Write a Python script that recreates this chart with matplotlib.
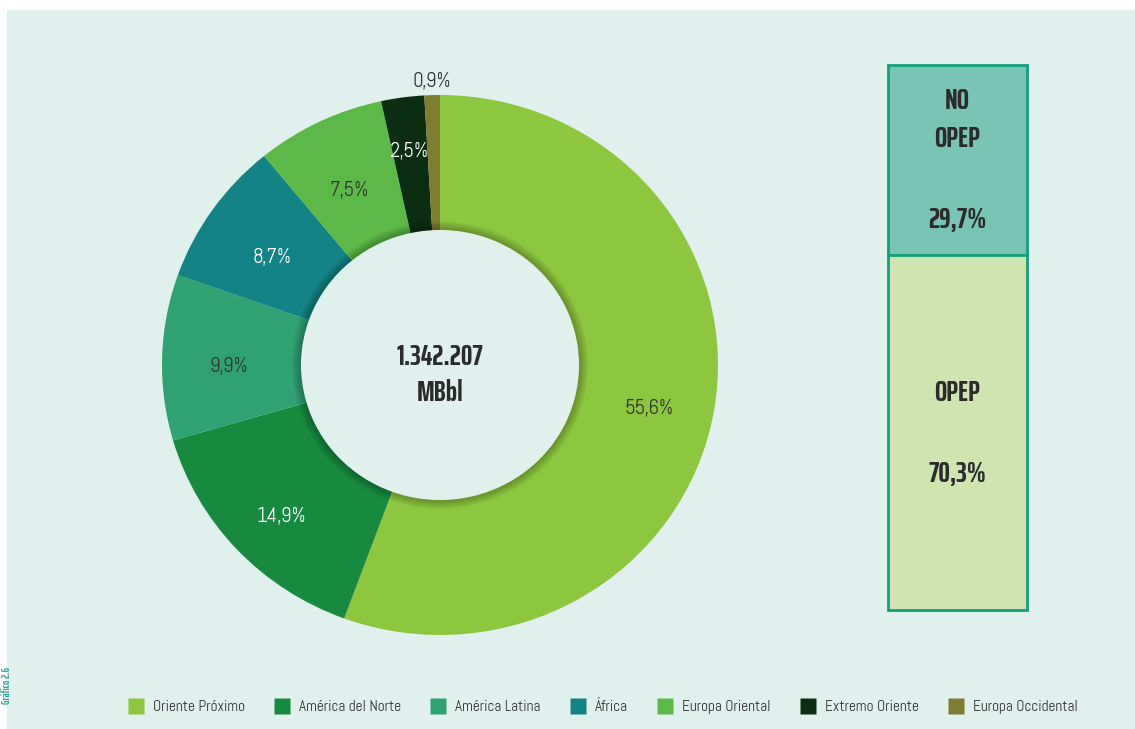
import math
import matplotlib.pyplot as plt
from matplotlib.patches import Rectangle, Wedge
from matplotlib.lines import Line2D

plt.rcParams['font.family'] = ['Abel', 'DejaVu Sans']
BOLD = ['Saira ExtraCondensed', 'DejaVu Sans']

regiones = ["Oriente Próximo", "América del Norte", "América Latina", "África",
            "Europa Oriental", "Extremo Oriente", "Europa Occidental"]
valores = [55.6, 14.9, 9.9, 8.7, 7.5, 2.5, 0.9]
colores = ["#8dc63f", "#178a3f", "#2fa173", "#138385", "#5cb947", "#0b2e13", "#7f7d31"]
color_texto = ["#333333", "white", "#333333", "white", "#333333", "white", "#333333"]
total = "1.342.207\nMBbl"

opep = ["NO\nOPEP", "OPEP"]
opep_valores = [29.7, 70.3]
opep_colores = ["#79c4b4", "#cfe4b1"]

# distancia radial de cada etiqueta (fracción del radio)
dist_etiqueta = [0.765, 0.78, 0.76, 0.74, 0.75, 0.825, 1.05]

W, H = 1135, 729
fig = plt.figure(figsize=(W / 100, H / 100), dpi=100, facecolor="white")
ax = fig.add_axes([0, 0, 1, 1])
ax.set_xlim(0, W)
ax.set_ylim(0, H)
ax.axis("off")

# fondo
ax.add_patch(Rectangle((7, 0), W - 7, H - 10, facecolor="#e0f0ec", edgecolor="none", zorder=0))
ax.text(6, 44, "Gráfico 2.6", rotation=90, color="#2aa59a", fontsize=8,
        ha="center", va="center", family=BOLD, fontweight="bold")

# donut (ligeramente más ancho que alto, como en el original)
cx, cy = 440, H - 365
rx, ry = 278, 270
m = 1.1
pax = fig.add_axes([(cx - rx * m) / W, (cy - ry * m) / H, 2 * rx * m / W, 2 * ry * m / H])
pax.patch.set_visible(False)
wedges, _ = pax.pie(valores, colors=colores, startangle=90, counterclock=False,
                    radius=1, frame=True, wedgeprops=dict(width=0.5, edgecolor="none"))
pax.set_xlim(-m, m)
pax.set_ylim(-m, m)
pax.set_aspect("auto")
pax.axis("off")

# sombra interior
for i in range(8):
    pax.add_patch(Wedge((0, 0), 0.5 + 0.033 - i * 0.004, 0, 360, width=0.0045,
                        facecolor="black", alpha=0.03 * (i + 1), edgecolor="none", zorder=3))

ang = 90
for v, col, d in zip(valores, color_texto, dist_etiqueta):
    mid = ang - v * 3.6 / 2
    ang -= v * 3.6
    dy = -0.028 if d < 1 else 0
    pax.text(d * math.cos(math.radians(mid)), d * math.sin(math.radians(mid)) + dy,
             f"{v:.1f}%".replace(".", ","), color=col, fontsize=15,
             ha="center", va="center", zorder=5)

ax.text(cx, H - 375, total, ha="center", va="center", fontsize=21, fontweight="bold",
        family=BOLD, color="#2b2b2b", linespacing=1.4, zorder=5)

# caja OPEP / NO OPEP
x0, x1 = 888, 1027
top, split, bottom = H - 65, H - 255, H - 610
ax.add_patch(Rectangle((x0, split), x1 - x0, top - split, facecolor=opep_colores[0],
                       edgecolor="#12a07a", linewidth=2, zorder=2))
ax.add_patch(Rectangle((x0, bottom), x1 - x0, split - bottom, facecolor=opep_colores[1],
                       edgecolor="#12a07a", linewidth=2, zorder=2))
xm = (x0 + x1) / 2
kw = dict(ha="center", va="center", fontsize=21, fontweight="bold", family=BOLD,
          color="#2b2b2b", zorder=5)
ax.text(xm, H - 120, opep[0], linespacing=1.45, **kw)
ax.text(xm, H - 220, f"{opep_valores[0]:.1f}%".replace(".", ","), **kw)
ax.text(xm, H - 393, opep[1], **kw)
ax.text(xm, H - 474, f"{opep_valores[1]:.1f}%".replace(".", ","), **kw)

handles = [Line2D([], [], marker="s", linestyle="none", markersize=11,
                  markerfacecolor=c, markeredgecolor="none") for c in colores]
fig.legend(handles, regiones, loc="center", bbox_to_anchor=(599 / W, 1 - 707 / H),
           ncol=7, frameon=False, fontsize=11, handletextpad=0.1, columnspacing=1.45,
           labelcolor="#333333")

fig.savefig("out.png", dpi=100, facecolor="white")
